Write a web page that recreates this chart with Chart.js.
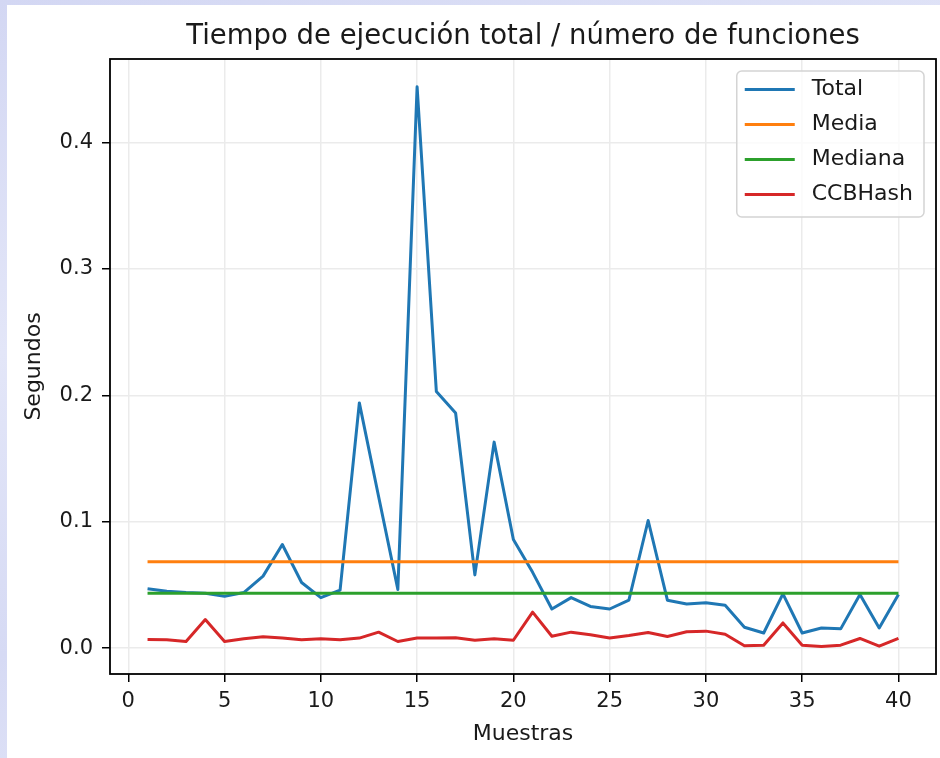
<!DOCTYPE html>
<html lang="es">
<head>
<meta charset="utf-8">
<title>Tiempo de ejecución total / número de funciones</title>
<script src="https://cdn.jsdelivr.net/npm/chart.js@4.4.1/dist/chart.umd.min.js"></script>
<style>
  html, body { margin: 0; padding: 0; }
  body {
    width: 940px; height: 758px; overflow: hidden; position: relative;
    background: linear-gradient(165deg, #d3d7f3 0%, #e3e6f8 35%, #d6daf4 65%, #e9ebfa 100%);
  }
  #panel { position: absolute; left: 7px; top: 5px; width: 933px; height: 753px; background: #fff; }
  canvas { display: block; }
</style>
</head>
<body>
<div id="panel"><canvas id="grafico" width="933" height="753"></canvas></div>
<script>
// datos
const muestras = [1, 2, 3, 4, 5, 6, 7, 8, 9, 10, 11, 12, 13, 14, 15, 16, 17, 18, 19, 20,
                  21, 22, 23, 24, 25, 26, 27, 28, 29, 30, 31, 32, 33, 34, 35, 36, 37, 38, 39, 40];
const total = [0.047, 0.045, 0.044, 0.0435, 0.041, 0.044, 0.057, 0.082, 0.052, 0.040,
               0.046, 0.194, 0.120, 0.0465, 0.444, 0.203, 0.186, 0.058, 0.163, 0.086,
               0.060, 0.031, 0.040, 0.033, 0.031, 0.038, 0.101, 0.038, 0.035, 0.036,
               0.034, 0.0166, 0.012, 0.043, 0.012, 0.016, 0.0153, 0.0425, 0.016, 0.0425];
const ccbHash = [0.0069, 0.0067, 0.0053, 0.0227, 0.0053, 0.0074, 0.009, 0.008, 0.0067, 0.0074,
                 0.0066, 0.008, 0.0127, 0.0053, 0.008, 0.008, 0.0082, 0.0063, 0.0074, 0.0063,
                 0.0285, 0.0095, 0.0127, 0.0106, 0.008, 0.010, 0.0124, 0.0093, 0.013, 0.0135,
                 0.011, 0.0019, 0.0024, 0.020, 0.0024, 0.0013, 0.0024, 0.0077, 0.0016, 0.0077];
const media = 0.0683;
const mediana = 0.0435;
const ticksX = [0, 5, 10, 15, 20, 25, 30, 35, 40];
const ticksY = [0.0, 0.1, 0.2, 0.3, 0.4];

const fuente = '"DejaVu Sans", sans-serif';
const colorTexto = '#1a1a1a';

function puntos(valores) {
    return muestras.map((m, i) => ({ x: m, y: valores[i] }));
}

function constante(v) {
    return muestras.map(m => ({ x: m, y: v }));
}

// marco del área y leyenda arriba a la derecha (como matplotlib)
const marcoYLeyenda = {
    id: 'marcoYLeyenda',
    afterDatasetsDraw(chart) {
        const { ctx, chartArea: a } = chart;
        ctx.save();
        ctx.strokeStyle = '#000';
        ctx.lineWidth = 1.8;
        ctx.strokeRect(a.left, a.top, a.right - a.left, a.bottom - a.top);

        ctx.font = '22px ' + fuente;
        const anchoTexto = Math.max(...chart.data.datasets.map(d => ctx.measureText(d.label).width));
        const ancho = 8 + 50 + 17 + anchoTexto + 11;
        const alto = 146;
        const x0 = a.right - 12 - ancho;
        const y0 = a.top + 12;
        ctx.beginPath();
        ctx.roundRect(x0, y0, ancho, alto, 5);
        ctx.fillStyle = 'rgba(255,255,255,0.8)';
        ctx.fill();
        ctx.strokeStyle = '#d4d4d4';
        ctx.lineWidth = 1.5;
        ctx.stroke();

        chart.data.datasets.forEach((d, i) => {
            const y = y0 + 18.6 + i * 35;
            ctx.beginPath();
            ctx.moveTo(x0 + 8, y);
            ctx.lineTo(x0 + 58, y);
            ctx.strokeStyle = d.borderColor;
            ctx.lineWidth = 3;
            ctx.stroke();
            ctx.fillStyle = colorTexto;
            ctx.textAlign = 'left';
            ctx.textBaseline = 'middle';
            ctx.fillText(d.label, x0 + 75, y);
        });
        ctx.restore();
    }
};

const lineaBase = {
    fill: false,
    tension: 0,
    pointRadius: 0,
    borderWidth: 3,
    borderJoinStyle: 'round'
};

const rejilla = {
    color: '#ebebeb',
    lineWidth: 1.5,
    tickColor: '#000',
    tickLength: 8,
    tickWidth: 1.5
};

new Chart(document.getElementById('grafico'), {
    type: 'line',
    data: {
        datasets: [
            { ...lineaBase, label: 'Total', data: puntos(total), borderColor: '#1f77b4', order: 4 },
            { ...lineaBase, label: 'Media', data: constante(media), borderColor: '#ff7f0e', order: 3 },
            { ...lineaBase, label: 'Mediana', data: constante(mediana), borderColor: '#2ca02c', order: 2 },
            { ...lineaBase, label: 'CCBHash', data: puntos(ccbHash), borderColor: '#d62728', order: 1 }
        ]
    },
    options: {
        responsive: false,
        animation: false,
        layout: { padding: { left: 0, right: 4, top: 0, bottom: 0 } },
        plugins: {
            legend: { display: false },
            tooltip: { enabled: false },
            title: {
                display: true,
                text: 'Tiempo de ejecución total / número de funciones',
                fullSize: false,
                color: colorTexto,
                font: { family: fuente, size: 27.5, weight: 'normal' },
                padding: { top: 15.5, bottom: 5.5 }
            }
        },
        scales: {
            x: {
                type: 'linear',
                min: -0.95,
                max: 41.95,
                afterBuildTicks: s => { s.ticks = ticksX.map(v => ({ value: v })); },
                afterFit: s => { s.height = 84; },
                grid: rejilla,
                border: { display: false },
                ticks: {
                    color: colorTexto,
                    padding: 7,
                    maxRotation: 0,
                    font: { family: fuente, size: 21 },
                    callback: v => String(v)
                },
                title: {
                    display: true,
                    text: 'Muestras',
                    color: colorTexto,
                    font: { family: fuente, size: 22 },
                    padding: { top: 0, bottom: 10.6 }
                }
            },
            y: {
                type: 'linear',
                min: -0.0204,
                max: 0.466,
                afterBuildTicks: s => { s.ticks = ticksY.map(v => ({ value: v })); },
                afterFit: s => { s.width = 103; },
                grid: rejilla,
                border: { display: false },
                ticks: {
                    color: colorTexto,
                    padding: 9,
                    font: { family: fuente, size: 21 },
                    callback: v => v.toFixed(1)
                },
                title: {
                    display: true,
                    text: 'Segundos',
                    color: colorTexto,
                    font: { family: fuente, size: 22 },
                    padding: { top: 14, bottom: 0 }
                }
            }
        }
    },
    plugins: [marcoYLeyenda]
});
</script>
</body>
</html>
